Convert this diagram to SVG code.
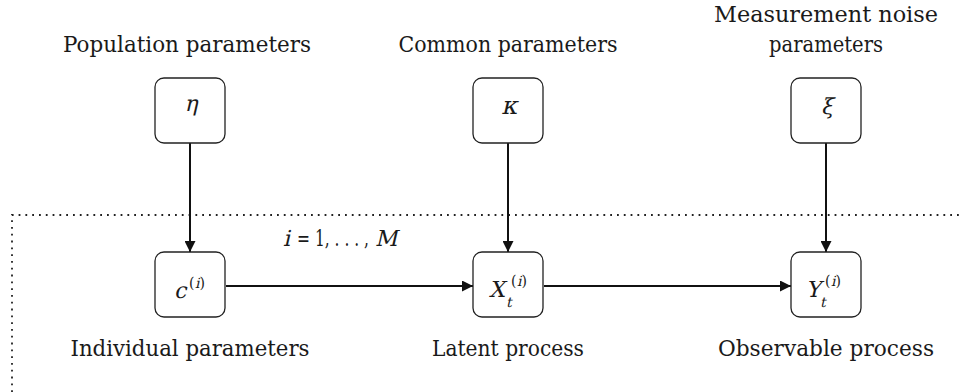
<svg xmlns="http://www.w3.org/2000/svg" width="960" height="392" viewBox="0 0 960 392">
<style>
.box{fill:#fff;stroke:#222;stroke-width:1.3}
text{font-family:'DejaVu Serif',serif;fill:#1a1a1a}
.lbl{font-size:22px;text-anchor:middle}
.m{font-size:22px}
.s{font-size:14px}
.edge{stroke:#111;stroke-width:2;fill:none}
</style>
<defs>
<marker id="ah" markerWidth="11" markerHeight="11" refX="11" refY="5.5" orient="auto" markerUnits="userSpaceOnUse" viewBox="0 0 11 11">
<path d="M0,0 L11,5.5 L0,11 z" fill="#111"/>
</marker>
</defs>
<rect x="0" y="0" width="960" height="392" fill="#fff"/>
<path d="M12,392 L12,215 L960,215" fill="none" stroke="#222" stroke-width="1.8" stroke-dasharray="1.8 5" stroke-linecap="butt"/>
<g id="range">
<text class="m" transform="translate(283,246) skewX(-13)">i</text>
<text class="m" x="297" y="246" textLength="72" lengthAdjust="spacingAndGlyphs">= 1, . . . ,</text>
<text class="m" transform="translate(375,246) skewX(-13)">M</text>
</g>
<g id="connectors">
<line class="edge" x1="190" y1="143" x2="190" y2="252" marker-end="url(#ah)"/>
<line class="edge" x1="508" y1="143" x2="508" y2="252" marker-end="url(#ah)"/>
<line class="edge" x1="826" y1="143" x2="826" y2="252" marker-end="url(#ah)"/>
<line class="edge" x1="226" y1="286" x2="473" y2="286" marker-end="url(#ah)"/>
<line class="edge" x1="544" y1="286" x2="791" y2="286" marker-end="url(#ah)"/>
</g>
<g id="eta">
<text class="lbl" x="187" y="52" textLength="248" lengthAdjust="spacingAndGlyphs">Population parameters</text>
<rect class="box" x="155" y="78" width="70" height="65" rx="9"/>
<text class="m" text-anchor="middle" transform="translate(191,111) skewX(-13)">η</text>
</g>
<g id="kappa">
<text class="lbl" x="508" y="52" textLength="219" lengthAdjust="spacingAndGlyphs">Common parameters</text>
<rect class="box" x="473" y="78" width="70" height="65" rx="9"/>
<text class="m" text-anchor="middle" font-size="25" style="font-size:25px" transform="translate(509,114) skewX(-13)">κ</text>
</g>
<g id="xi">
<text class="lbl" x="826" y="22" textLength="224" lengthAdjust="spacingAndGlyphs">Measurement noise</text>
<text class="lbl" x="826" y="52" textLength="114" lengthAdjust="spacingAndGlyphs">parameters</text>
<rect class="box" x="791" y="78" width="70" height="65" rx="9"/>
<text class="m" text-anchor="middle" transform="translate(827,114) skewX(-13)">ξ</text>
</g>
<g id="c">
<rect class="box" x="155" y="252" width="70" height="65" rx="9"/>
<text class="m" transform="translate(174,298) skewX(-13)">c</text>
<text class="s" x="189" y="288">(</text>
<text class="s" transform="translate(195,288) skewX(-13)">i</text>
<text class="s" x="199.5" y="288">)</text>
<text class="lbl" x="190" y="356" textLength="239" lengthAdjust="spacingAndGlyphs">Individual parameters</text>
</g>
<g id="X">
<rect class="box" x="473" y="252" width="70" height="65" rx="9"/>
<text class="m" transform="translate(489,297) skewX(-13)">X</text>
<text class="s" transform="translate(506,307) skewX(-13)">t</text>
<text class="s" x="511" y="286">(</text>
<text class="s" transform="translate(517,286) skewX(-13)">i</text>
<text class="s" x="521.5" y="286">)</text>
<text class="lbl" x="508" y="356" textLength="152" lengthAdjust="spacingAndGlyphs">Latent process</text>
</g>
<g id="Y">
<rect class="box" x="791" y="252" width="70" height="65" rx="9"/>
<text class="m" transform="translate(806,297) skewX(-13)">Y</text>
<text class="s" transform="translate(820,307) skewX(-13)">t</text>
<text class="s" x="825" y="286">(</text>
<text class="s" transform="translate(831,286) skewX(-13)">i</text>
<text class="s" x="835.5" y="286">)</text>
<text class="lbl" x="826" y="356" textLength="216" lengthAdjust="spacingAndGlyphs">Observable process</text>
</g>
</svg>
